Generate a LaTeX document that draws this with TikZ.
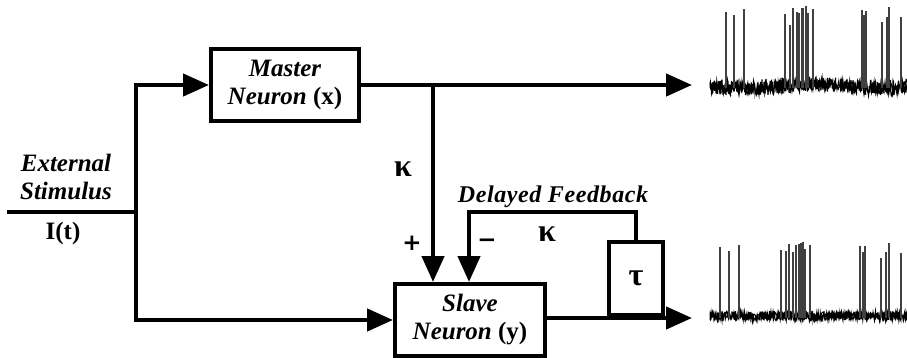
\documentclass[tikz,border=0pt]{standalone}
\usepackage{fontspec}
\setmainfont{Liberation Serif}
\newfontfamily\symfont{DejaVu Sans}
\newfontfamily\spaced[LetterSpace=2.5]{Liberation Serif}
\usetikzlibrary{arrows.meta}
\begin{document}
\begin{tikzpicture}[x=1pt,y=-1pt,
  wire/.style={line width=4.5pt},
  arr/.style={wire,-{Triangle[length=26pt,width=22pt]}},
  blk/.style={draw,line width=4pt,inner sep=0pt,align=center,
    font=\fontsize{25}{28}\selectfont\bfseries\itshape},
  lbl/.style={font=\fontsize{25}{28}\selectfont\bfseries\itshape,align=center,inner sep=0pt},
  greek/.style={font=\fontsize{32}{34}\selectfont\bfseries,inner sep=0pt},
  sign/.style={font=\symfont\fontsize{23}{24}\selectfont\bfseries,inner sep=0pt},
  spk/.style={line width=1.1pt,black!75},
  noise/.style={line width=1pt}
]
\useasboundingbox (0,0) rectangle (907,358);

% blocks
\node[blk,minimum width=148pt,minimum height=72pt] (master) at (285,85)
  {Master\\Neuron \textup{(x)}};
\node[blk,minimum width=150pt,minimum height=72pt] (slave) at (470,320)
  {Slave\\Neuron \textup{(y)}};
\node[blk,minimum width=54pt,minimum height=73pt,font=\fontsize{32}{34}\selectfont\bfseries] (tau) at (636,278.5) {τ};

% coordinates
\coordinate (in) at (7,212);
\coordinate (j) at (136,212);
\coordinate (br) at (433,85);
\coordinate (otop) at (692,85);
\coordinate (obot) at (692,318);
\coordinate (tj) at (636,318);
\coordinate (fb1) at (636,212);
\coordinate (fb2) at (469,212);

% wires
\draw[wire] (in) -- (j);
\draw[arr] (j) |- (master.west);
\draw[arr] (j) |- (slave.west);
\draw[arr] (master.east) -- (otop);
\draw[arr] (br) -- (br |- slave.north);
\draw[arr] (slave.east |- tj) -- (obot);
\draw[wire] (tj) -- (tau.south);
\draw[arr] (tau.north) -- (fb1) -- (fb2) -- (fb2 |- slave.north);

% labels
\node[lbl] (ext) at (66,177) {External\\Stimulus};
\node[lbl,font=\fontsize{25}{28}\selectfont\bfseries] (it) at (63,233) {I(t)};
\node[greek] (k1) at (403,169) {κ};
\node[greek] (k2) at (547,234) {κ};
\node[sign] (plus) at (412,243) {+};
\node[sign] (minus) at (487,243) {−};
\node[lbl,font=\spaced\fontsize{24}{28}\selectfont\bfseries\itshape] (dfb) at (553,197) {Delayed Feedback};

% traces
\pgfmathsetseed{7}
\draw[noise] (710,85) \foreach \i in {0,...,394} { -- ({710+\i*0.5},{86+2*sin(\i*1.3)+8*rand}) };
\draw[noise] (710,85) \foreach \i in {0,...,394} { -- ({710.25+\i*0.5},{86+2*sin(\i*1.3)+6*rand}) };
\foreach \x/\t in {726/12,734/15,744/9,785/14,790/25,793/8,797/12,799/13,802/8,803/8,806/6,808/13,813/9,862/10,864/15,866/11,882/22,887/17,889/7,901/17}
  \draw[spk] (\x,88) -- (\x,\t);
\draw[noise] (710,316) \foreach \i in {0,...,394} { -- ({710+\i*0.5},{316+5*rand}) };
\draw[noise] (710,316) \foreach \i in {0,...,394} { -- ({710.25+\i*0.5},{316+4*rand}) };
\foreach \x/\t in {720/247,729/251,739/245,781/250,786/251,789/244,793/252,796/245,799/244,801/243,803/242,805/249,810/245,860/246,863/252,865/246,881/258,886/252,889/243,901/253}
  \draw[spk] (\x,318) -- (\x,\t);
\end{tikzpicture}
\end{document}
